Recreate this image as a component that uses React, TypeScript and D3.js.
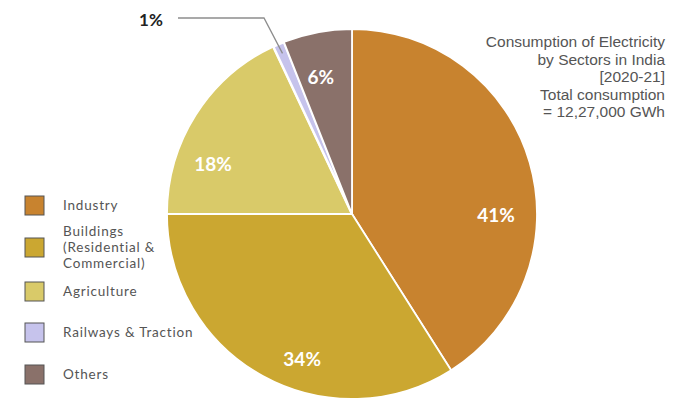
import React from "react";
import * as d3 from "d3";

const sectors = ["Industry", "Buildings", "Agriculture", "Railways & Traction", "Others"];
const shares = [41, 34, 18, 1, 6];
const legendLabels = [["Industry"], ["Buildings", "(Residential &", "Commercial)"], ["Agriculture"], ["Railways & Traction"], ["Others"]];
const colors = ["#c8832f", "#cba731", "#d9ca69", "#c6c3ec", "#8a716a"];
const titleLines = ["Consumption of Electricity", "by Sectors in India", "[2020-21]", "Total consumption", "= 12,27,000 GWh"];
// label placement: fraction along slice, radius
const labelFrac = [0.61, 0.42, 0.31, 0.5, 0.41];
const labelRad = [144, 153, 148, 0, 141];

export default function App() {
  const W = 700, H = 401;
  const cx = 352, cy = 214, R = 185;
  const pie = d3.pie<number>().value((d) => d).sort(null)(shares);
  const arc = d3.arc<d3.PieArcDatum<number>>().innerRadius(0).outerRadius(R);
  const pt = (ang: number, r: number) => [cx + r * Math.sin(ang), cy - r * Math.cos(ang)];
  const rail = pie[3];
  const railMid = (rail.startAngle + rail.endAngle) / 2;
  const [lx, ly] = pt(railMid, R - 10);
  const legendY = [205, 247, 291, 332, 374];
  const lh = 16;
  return (
    <svg width={W} height={H} style={{ position: "absolute", left: 0, top: 0, background: "#fff" }}>
      <g transform={`translate(${cx},${cy})`}>
        {pie.map((p, i) => (
          <path key={i} d={arc(p) || ""} fill={colors[i]} stroke="#fff" strokeWidth={i === 3 ? 2.5 : 1.8} />
        ))}
      </g>
      {pie.map((p, i) => {
        if (i === 3) return null;
        const a = p.startAngle + (p.endAngle - p.startAngle) * labelFrac[i];
        const [x, y] = pt(a, labelRad[i]);
        return (
          <text key={i} x={x} y={y} textAnchor="middle" dominantBaseline="central" fill="#fff"
            fontFamily="Lato, sans-serif" fontWeight="bold" fontSize={19}>{shares[i]}%</text>
        );
      })}
      <polyline points={`${lx},${ly} 264,18 178,18`} fill="none" stroke="#8d8d8d" strokeWidth={1.3} />
      <text x={151} y={19} textAnchor="middle" dominantBaseline="central" fill="#222"
        fontFamily="Lato, sans-serif" fontWeight="bold" fontSize={17}>{shares[3]}%</text>
      {titleLines.map((t, i) => (
        <text key={i} x={665} y={47 + i * 17.5} textAnchor="end" fill="#555"
          fontFamily="Liberation Sans, Arial, sans-serif" fontSize={15.5}>{t}</text>
      ))}
      {sectors.map((s, i) => {
        const n = legendLabels[i].length;
        return (
          <g key={s}>
            <rect x={25} y={legendY[i] - 9} width={19} height={19} fill={colors[i]} stroke="#555" strokeWidth={1} />
            <text x={63} y={legendY[i] + 5 - ((n - 1) / 2) * lh} fill="#555" fontFamily="Lato, sans-serif"
              fontSize={13.5} letterSpacing={0.8}>
              {legendLabels[i].map((l, j) => (
                <tspan key={j} x={63} dy={j === 0 ? 0 : lh}>{l}</tspan>
              ))}
            </text>
          </g>
        );
      })}
    </svg>
  );
}
